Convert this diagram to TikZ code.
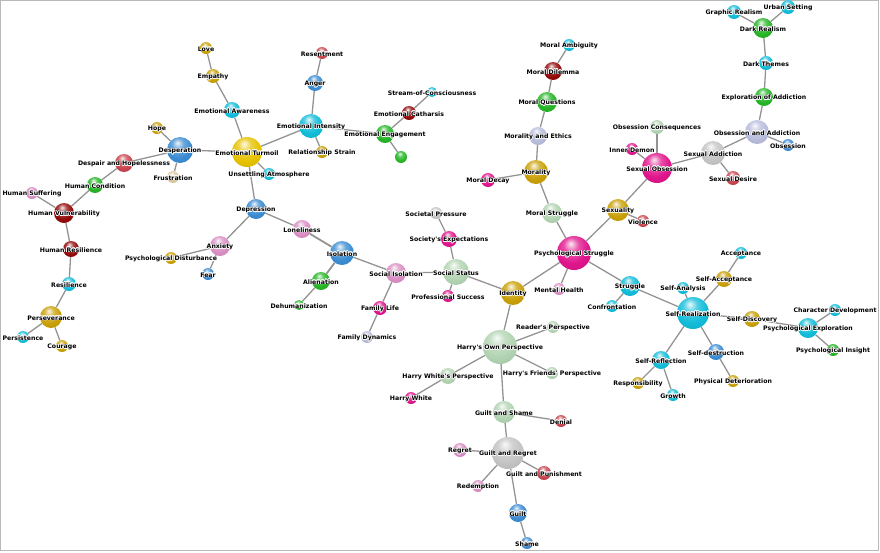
\documentclass[tikz,border=0pt]{standalone}
\usepackage{fontspec}
\usepackage{contour}
\contourlength{0.5pt}
\newfontfamily\lblfont{DejaVu Sans}
\usetikzlibrary{backgrounds}
\definecolor{gold}{HTML}{C9A008}
\definecolor{sunny}{HTML}{E6C200}
\definecolor{cyanb}{HTML}{12BCD9}
\definecolor{blueb}{HTML}{3C8CD2}
\definecolor{ired}{HTML}{C8444E}
\definecolor{dred}{HTML}{930A0A}
\definecolor{greenb}{HTML}{26B526}
\definecolor{pinkb}{HTML}{DA8EC4}
\definecolor{magb}{HTML}{E0158C}
\definecolor{lgreenb}{HTML}{B2D4B2}
\definecolor{lavb}{HTML}{B8BCDC}
\definecolor{silverb}{HTML}{C4C4C4}
\definecolor{tanb}{HTML}{D9C9A0}
% glossy sphere shading
\makeatletter
\pgfdeclareradialshading[tikz@ball]{glossy}{\pgfpoint{-5bp}{14bp}}{%
  color(0bp)=(tikz@ball!10!white);
  color(11bp)=(tikz@ball!75!white);
  color(24bp)=(tikz@ball);
  color(45bp)=(tikz@ball!88!black);
  color(66bp)=(tikz@ball!72!black)}
\makeatother
% label text with white halo
\newcommand{\lbltxt}[1]{\contour{white}{#1}}
\begin{document}
\begin{tikzpicture}[x=1pt, y=-1pt,
  sph/.style n args={2}{circle, inner sep=0pt, minimum size=#1pt, ball color=#2, shading=glossy},
  lbl/.style={inner sep=0pt, yshift=-1.2pt, font=\lblfont\bfseries\fontsize{6.2}{7}\selectfont, text=black},
  edge/.style={draw=gray!85, line width=1.3pt}]
\useasboundingbox (0,0) rectangle (880,552);
% left part
\node[sph={12}{gold}, label={[lbl]center:\lbltxt{Love}}] (love) at (206,48){};
\node[sph={14}{gold}, label={[lbl]center:\lbltxt{Empathy}}] (empathy) at (213,76){};
\node[sph={16}{cyanb}, label={[lbl]center:\lbltxt{Emotional Awareness}}] (emoaware) at (232,110){};
\node[sph={12}{gold}, label={[lbl]center:\lbltxt{Hope}}] (hope) at (157,128){};
\node[sph={26}{blueb}, label={[lbl]center:\lbltxt{Desperation}}] (desper) at (180,150){};
\node[sph={30}{sunny}, label={[lbl]center:\lbltxt{Emotional Turmoil}}] (turmoil) at (247,152){};
\node[sph={18}{ired}, label={[lbl]center:\lbltxt{Despair and Hopelessness}}] (despair) at (124,163){};
\node[sph={12}{tanb}, label={[lbl]center:\lbltxt{Frustration}}] (frustr) at (173,177){};
\node[sph={12}{cyanb}, label={[lbl]center:\lbltxt{Unsettling Atmosphere}}] (unsettl) at (269,174){};
\node[sph={16}{greenb}, label={[lbl]center:\lbltxt{Human Condition}}] (humcond) at (95,185){};
\node[sph={12}{pinkb}, label={[lbl]center:\lbltxt{Human Suffering}}] (humsuff) at (32,193){};
\node[sph={20}{dred}, label={[lbl]center:\lbltxt{Human Vulnerability}}] (humvuln) at (64,213){};
\node[sph={16}{dred}, label={[lbl]center:\lbltxt{Human Resilience}}] (humresil) at (71,249){};
\node[sph={14}{cyanb}, label={[lbl]center:\lbltxt{Resilience}}] (resil) at (69,284){};
\node[sph={22}{gold}, label={[lbl]center:\lbltxt{Perseverance}}] (persev) at (51,317){};
\node[sph={12}{cyanb}, label={[lbl]center:\lbltxt{Persistence}}] (persist) at (23,337){};
\node[sph={12}{gold}, label={[lbl]center:\lbltxt{Courage}}] (courage) at (62,346){};
\node[sph={20}{blueb}, label={[lbl]center:\lbltxt{Depression}}] (depress) at (256,209){};
\node[sph={20}{pinkb}, label={[lbl]center:\lbltxt{Anxiety}}] (anxiety) at (220,246){};
\node[sph={12}{gold}, label={[lbl]center:\lbltxt{Psychological Disturbance}}] (psydist) at (171,258){};
\node[sph={12}{blueb}, label={[lbl]center:\lbltxt{Fear}}] (fear) at (208,274){};
\node[sph={18}{pinkb}, label={[lbl]center:\lbltxt{Loneliness}}] (lonely) at (302,229){};
\node[sph={24}{blueb}, label={[lbl]center:\lbltxt{Isolation}}] (isol) at (342,253){};
\node[sph={18}{greenb}, label={[lbl]center:\lbltxt{Alienation}}] (alien) at (321,281){};
\node[sph={10}{greenb}, label={[lbl]center:\lbltxt{Dehumanization}}] (dehum) at (299,305){};
\node[sph={20}{pinkb}, label={[lbl]center:\lbltxt{Social Isolation}}] (socisol) at (396,273){};
\node[sph={14}{magb}, label={[lbl]center:\lbltxt{Family Life}}] (famlife) at (380,308){};
\node[sph={12}{lavb}, label={[lbl]center:\lbltxt{Family Dynamics}}] (famdyn) at (367,337){};
\node[sph={12}{ired}, label={[lbl]center:\lbltxt{Resentment}}] (resent) at (322,53){};
\node[sph={16}{blueb}, label={[lbl]center:\lbltxt{Anger}}] (anger) at (315,83){};
\node[sph={24}{cyanb}, label={[lbl]center:\lbltxt{Emotional Intensity}}] (emointens) at (311,126){};
\node[sph={12}{gold}, label={[lbl]center:\lbltxt{Relationship Strain}}] (relstrain) at (322,152){};
\node[sph={18}{greenb}, label={[lbl]center:\lbltxt{Emotional Engagement}}] (emoengage) at (385,134){};
\node[sph={12}{greenb}] (emoextra) at (401,157){};
\node[sph={14}{dred}, label={[lbl]center:\lbltxt{Emotional Catharsis}}] (catharsis) at (409,113){};
\node[sph={10}{cyanb}, label={[lbl]center:\lbltxt{Stream-of-Consciousness}}] (stream) at (432,92){};
% morality and obsession
\node[sph={12}{cyanb}, label={[lbl]center:\lbltxt{Moral Ambiguity}}] (moralamb) at (569,45){};
\node[sph={18}{dred}, label={[lbl]center:\lbltxt{Moral Dilemma}}] (moraldil) at (553,71){};
\node[sph={20}{greenb}, label={[lbl]center:\lbltxt{Moral Questions}}] (moralq) at (547,102){};
\node[sph={18}{lavb}, label={[lbl]center:\lbltxt{Morality and Ethics}}] (morethics) at (538,136){};
\node[sph={24}{gold}, label={[lbl]center:\lbltxt{Morality}}] (morality) at (536,172){};
\node[sph={14}{magb}, label={[lbl]center:\lbltxt{Moral Decay}}] (moraldecay) at (488,180){};
\node[sph={20}{lgreenb}, label={[lbl]center:\lbltxt{Moral Struggle}}] (moralstrug) at (552,213){};
\node[sph={34}{magb}, label={[lbl]center:\lbltxt{Psychological Struggle}}] (psystrug) at (574,253){};
\node[sph={22}{gold}, label={[lbl]center:\lbltxt{Sexuality}}] (sexuality) at (618,210){};
\node[sph={12}{ired}, label={[lbl]center:\lbltxt{Violence}}] (violence) at (643,221){};
\node[sph={12}{magb}, label={[lbl]center:\lbltxt{Inner Demon}}] (innerdemon) at (632,149){};
\node[sph={30}{magb}, label={[lbl]center:\lbltxt{Sexual Obsession}}] (sexobs) at (657,168){};
\node[sph={14}{lgreenb}, label={[lbl]center:\lbltxt{Obsession Consequences}}] (obscons) at (657,127){};
\node[sph={24}{silverb}, label={[lbl]center:\lbltxt{Sexual Addiction}}] (sexaddict) at (713,153){};
\node[sph={14}{ired}, label={[lbl]center:\lbltxt{Sexual Desire}}] (sexdesire) at (733,178){};
\node[sph={24}{lavb}, label={[lbl]center:\lbltxt{Obsession and Addiction}}] (obsaddict) at (757,132){};
\node[sph={12}{blueb}, label={[lbl]center:\lbltxt{Obsession}}] (obsession) at (788,145){};
\node[sph={18}{greenb}, label={[lbl]center:\lbltxt{Exploration of Addiction}}] (exploradd) at (764,97){};
\node[sph={14}{cyanb}, label={[lbl]center:\lbltxt{Dark Themes}}] (darkthemes) at (766,63){};
\node[sph={20}{greenb}, label={[lbl]center:\lbltxt{Dark Realism}}] (darkreal) at (763,28){};
\node[sph={14}{cyanb}, label={[lbl]center:\lbltxt{Graphic Realism}}] (graphreal) at (734,12){};
\node[sph={14}{cyanb}, label={[lbl]center:\lbltxt{Urban Setting}}] (urban) at (788,7){};
% self realization
\node[sph={20}{cyanb}, label={[lbl]center:\lbltxt{Struggle}}] (struggle) at (630,286){};
\node[sph={12}{cyanb}, label={[lbl]center:\lbltxt{Confrontation}}] (confront) at (612,306){};
\node[sph={12}{cyanb}, label={[lbl]center:\lbltxt{Self-Analysis}}] (selfanal) at (683,288){};
\node[sph={32}{cyanb}, label={[lbl]center:\lbltxt{Self-Realization}}] (selfreal) at (693,313){};
\node[sph={16}{gold}, label={[lbl]center:\lbltxt{Self-Acceptance}}] (selfacc) at (724,279){};
\node[sph={12}{cyanb}, label={[lbl]center:\lbltxt{Acceptance}}] (accept) at (741,253){};
\node[sph={16}{gold}, label={[lbl]center:\lbltxt{Self-Discovery}}] (selfdisc) at (752,319){};
\node[sph={20}{cyanb}, label={[lbl]center:\lbltxt{Psychological Exploration}}] (psyexpl) at (808,328){};
\node[sph={12}{cyanb}, label={[lbl]center:\lbltxt{Character Development}}] (chardev) at (835,310){};
\node[sph={12}{greenb}, label={[lbl]center:\lbltxt{Psychological Insight}}] (psyins) at (833,350){};
\node[sph={18}{cyanb}, label={[lbl]center:\lbltxt{Self-Reflection}}] (selfrefl) at (661,360){};
\node[sph={16}{blueb}, label={[lbl]center:\lbltxt{Self-destruction}}] (selfdestr) at (716,352){};
\node[sph={12}{gold}, label={[lbl]center:\lbltxt{Responsibility}}] (respons) at (638,383){};
\node[sph={12}{cyanb}, label={[lbl]center:\lbltxt{Growth}}] (growth) at (673,395){};
\node[sph={12}{gold}, label={[lbl]center:\lbltxt{Physical Deterioration}}] (physdet) at (733,381){};
% social status and guilt
\node[sph={12}{silverb}, label={[lbl]center:\lbltxt{Societal Pressure}}] (socpress) at (436,213){};
\node[sph={16}{magb}, label={[lbl]center:\lbltxt{Society's Expectations}}] (socexp) at (449,239){};
\node[sph={26}{lgreenb}, label={[lbl]center:\lbltxt{Social Status}}] (socstat) at (456,272){};
\node[sph={12}{magb}, label={[lbl]center:\lbltxt{Professional Success}}] (profsucc) at (448,296){};
\node[sph={24}{gold}, label={[lbl]center:\lbltxt{Identity}}] (identity) at (513,293){};
\node[sph={12}{pinkb}, label={[lbl]center:\lbltxt{Mental Health}}] (mental) at (559,289){};
\node[sph={12}{lgreenb}, label={[lbl]center:\lbltxt{Reader's Perspective}}] (readers) at (553,327){};
\node[sph={34}{lgreenb}, label={[lbl]center:\lbltxt{Harry's Own Perspective}}] (harryown) at (500,347){};
\node[sph={16}{lgreenb}, label={[lbl]center:\lbltxt{Harry White's Perspective}}] (hwpersp) at (448,376){};
\node[sph={12}{lgreenb}, label={[lbl]center:\lbltxt{Harry's Friends' Perspective}}] (friends) at (552,373){};
\node[sph={12}{magb}, label={[lbl]center:\lbltxt{Harry White}}] (harrywhite) at (411,398){};
\node[sph={22}{lgreenb}, label={[lbl]center:\lbltxt{Guilt and Shame}}] (guiltshame) at (504,412){};
\node[sph={12}{ired}, label={[lbl]center:\lbltxt{Denial}}] (denial) at (561,421){};
\node[sph={32}{silverb}, label={[lbl]center:\lbltxt{Guilt and Regret}}] (guiltregret) at (508,453){};
\node[sph={14}{pinkb}, label={[lbl]center:\lbltxt{Regret}}] (regret) at (460,450){};
\node[sph={14}{ired}, label={[lbl]center:\lbltxt{Guilt and Punishment}}] (guiltpun) at (544,473){};
\node[sph={12}{pinkb}, label={[lbl]center:\lbltxt{Redemption}}] (redemp) at (478,486){};
\node[sph={18}{blueb}, label={[lbl]center:\lbltxt{Guilt}}] (guilt) at (518,513){};
\node[sph={12}{blueb}, label={[lbl]center:\lbltxt{Shame}}] (shame) at (527,543){};
\begin{scope}[on background layer]
\draw[gray!55, line width=1pt] (0.5,0.5) rectangle (878.5,550.5);
\draw[edge] (love) -- (empathy);
\draw[edge] (empathy) -- (emoaware);
\draw[edge] (emoaware) -- (turmoil);
\draw[edge] (hope) -- (desper);
\draw[edge] (desper) -- (turmoil);
\draw[edge] (desper) -- (despair);
\draw[edge] (desper) -- (frustr);
\draw[edge] (despair) -- (humcond);
\draw[edge] (humcond) -- (humvuln);
\draw[edge] (humsuff) -- (humvuln);
\draw[edge] (humvuln) -- (humresil);
\draw[edge] (humresil) -- (resil);
\draw[edge] (resil) -- (persev);
\draw[edge] (persev) -- (persist);
\draw[edge] (persev) -- (courage);
\draw[edge] (turmoil) -- (unsettl);
\draw[edge] (turmoil) -- (emointens);
\draw[edge] (turmoil) -- (depress);
\draw[edge] (emointens) -- (anger);
\draw[edge] (anger) -- (resent);
\draw[edge] (emointens) -- (relstrain);
\draw[edge] (emointens) -- (emoengage);
\draw[edge] (emoengage) -- (catharsis);
\draw[edge] (catharsis) -- (stream);
\draw[edge] (emoengage) -- (emoextra);
\draw[edge] (depress) -- (anxiety);
\draw[edge] (anxiety) -- (psydist);
\draw[edge] (anxiety) -- (fear);
\draw[edge] (depress) -- (lonely);
\draw[edge, line width=1.8pt] (lonely) -- (isol);
\draw[edge, line width=1.8pt] (isol) -- (alien);
\draw[edge] (alien) -- (dehum);
\draw[edge] (isol) -- (socisol);
\draw[edge] (socisol) -- (famlife);
\draw[edge] (famlife) -- (famdyn);
\draw[edge] (socisol) -- (socstat);
\draw[edge] (socstat) -- (socexp);
\draw[edge] (socexp) -- (socpress);
\draw[edge] (socstat) -- (profsucc);
\draw[edge] (socstat) -- (identity);
\draw[edge] (identity) -- (psystrug);
\draw[edge] (identity) -- (harryown);
\draw[edge] (psystrug) -- (mental);
\draw[edge] (psystrug) -- (moralstrug);
\draw[edge] (moralstrug) -- (morality);
\draw[edge] (morality) -- (moraldecay);
\draw[edge] (morality) -- (morethics);
\draw[edge] (morethics) -- (moralq);
\draw[edge] (moralq) -- (moraldil);
\draw[edge] (moraldil) -- (moralamb);
\draw[edge] (psystrug) -- (sexuality);
\draw[edge] (sexuality) -- (violence);
\draw[edge] (sexuality) -- (sexobs);
\draw[edge] (sexobs) -- (innerdemon);
\draw[edge] (sexobs) -- (obscons);
\draw[edge] (sexobs) -- (sexaddict);
\draw[edge] (sexaddict) -- (sexdesire);
\draw[edge] (sexaddict) -- (obsaddict);
\draw[edge] (obsaddict) -- (obsession);
\draw[edge] (obsaddict) -- (exploradd);
\draw[edge] (exploradd) -- (darkthemes);
\draw[edge] (darkthemes) -- (darkreal);
\draw[edge] (darkreal) -- (graphreal);
\draw[edge] (darkreal) -- (urban);
\draw[edge] (psystrug) -- (struggle);
\draw[edge] (struggle) -- (confront);
\draw[edge] (struggle) -- (selfreal);
\draw[edge] (selfreal) -- (selfanal);
\draw[edge] (selfreal) -- (selfacc);
\draw[edge] (selfacc) -- (accept);
\draw[edge] (selfreal) -- (selfdisc);
\draw[edge] (selfdisc) -- (psyexpl);
\draw[edge] (psyexpl) -- (chardev);
\draw[edge] (psyexpl) -- (psyins);
\draw[edge] (selfreal) -- (selfrefl);
\draw[edge] (selfrefl) -- (respons);
\draw[edge] (selfrefl) -- (growth);
\draw[edge] (selfreal) -- (selfdestr);
\draw[edge] (selfdestr) -- (physdet);
\draw[edge] (harryown) -- (readers);
\draw[edge] (harryown) -- (hwpersp);
\draw[edge] (hwpersp) -- (harrywhite);
\draw[edge] (harryown) -- (friends);
\draw[edge] (harryown) -- (guiltshame);
\draw[edge] (guiltshame) -- (denial);
\draw[edge] (guiltshame) -- (guiltregret);
\draw[edge] (guiltregret) -- (regret);
\draw[edge] (guiltregret) -- (guiltpun);
\draw[edge] (guiltregret) -- (redemp);
\draw[edge] (guiltregret) -- (guilt);
\draw[edge] (guilt) -- (shame);
\end{scope}
\end{tikzpicture}
\end{document}
